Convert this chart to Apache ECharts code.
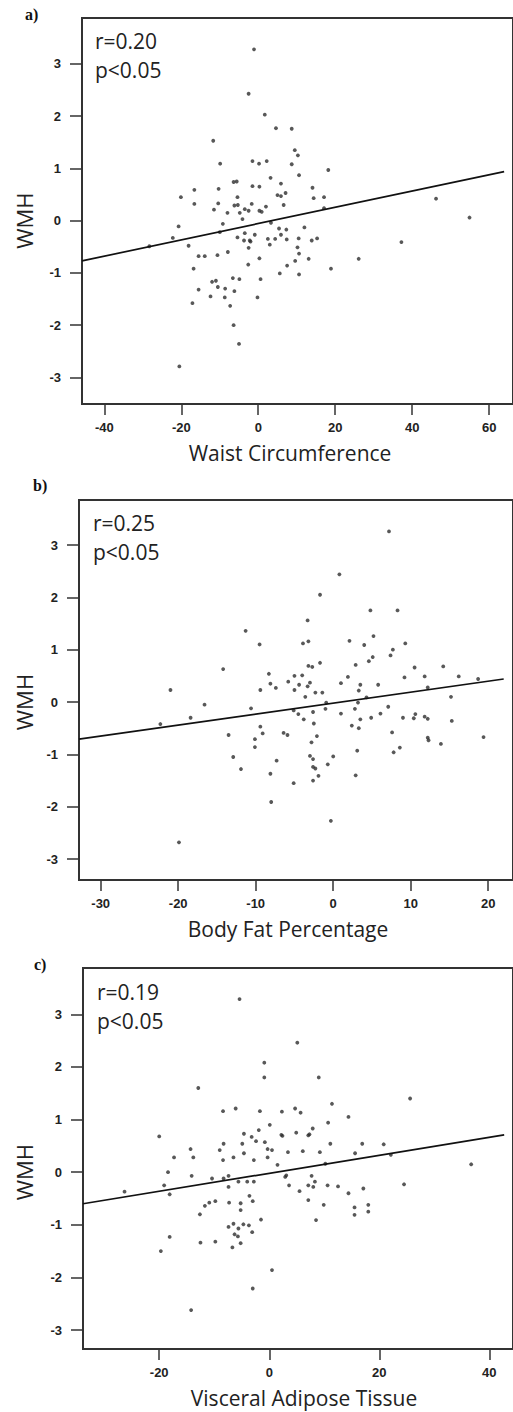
<!DOCTYPE html>
<html>
<head>
<meta charset="utf-8">
<script src="https://cdn.jsdelivr.net/npm/echarts@6/dist/echarts.min.js"></script>
<style>html,body{margin:0;padding:0;background:#fff}#c{width:513px;height:1412px}</style>
</head>
<body>
<div id="c"></div>
<script>
// ---------- data ----------
const xTicksA = [-40, -20, 0, 20, 40, 60];
const xTicksB = [-30, -20, -10, 0, 10, 20];
const xTicksC = [-20, 0, 20, 40];
const yTicks = [-3, -2, -1, 0, 1, 2, 3];

const statsA = ['r=0.20', 'p<0.05'];
const statsB = ['r=0.25', 'p<0.05'];
const statsC = ['r=0.19', 'p<0.05'];

const waistPoints = [
[-1.1,3.28],[-2.5,2.43],[-11.7,1.53],[-9.9,1.09],[-1.5,1.14],[-6.4,0.74],[-5.6,0.75],[-1.5,0.66],[-10.3,0.61],[-16.6,0.59],
[-20.1,0.45],[-5.4,0.45],[1.7,2.03],[4.6,1.77],[8.7,1.76],[9.5,1.35],[10.3,1.25],[0.2,1.09],[2.2,1.14],[8.7,1.08],
[18.2,0.97],[3.2,0.82],[10.6,0.87],[5.9,0.71],[0.3,0.65],[5.0,0.49],[5.9,0.47],[7.1,0.53],[14.1,0.63],[14.4,0.43],
[17.1,0.45],[46.2,0.42],[-16.6,0.32],[-10.4,0.33],[-11.5,0.21],[-8.0,0.15],[-6.2,0.29],[-5.3,0.30],[-4.8,0.15],[-3.5,0.22],
[-2.5,0.19],[-1.7,0.32],[-4.1,0.03],[-20.7,-0.11],[-22.2,-0.33],[-28.3,-0.49],[-18.1,-0.48],[-15.5,-0.68],[-13.9,-0.68],[-10.6,-0.66],
[-7.9,-0.60],[-9.2,-0.06],[-10.0,-0.22],[-5.4,-0.32],[-3.5,-0.24],[-3.7,-0.38],[-2.2,-0.38],[-0.9,-0.27],[-2.5,-0.52],[-2.6,-0.84],
[-16.8,-0.92],[-15.5,-1.32],[-17.1,-1.58],[-12.0,-1.17],[-11.0,-1.15],[-10.5,-1.27],[-8.6,-1.30],[-12.4,-1.45],[-8.7,-1.47],[-6.2,-1.35],
[-6.6,-1.10],[-4.9,-1.12],[-7.3,-1.63],[-6.4,-2.00],[-5.0,-2.36],[-20.5,-2.79],[0.3,0.19],[0.9,0.17],[2.0,0.27],[6.6,0.30],
[17.1,0.24],[54.9,0.06],[37.2,-0.41],[3.3,-0.04],[-2.0,-0.40],[5.4,-0.15],[5.9,-0.27],[7.3,-0.17],[7.4,-0.36],[4.4,-0.35],
[2.5,-0.35],[3.0,-0.46],[12.0,-0.13],[10.5,-0.34],[10.2,-0.51],[10.6,-0.63],[13.9,-0.38],[15.3,-0.34],[0.3,-0.72],[0.6,-1.12],
[-0.2,-1.47],[5.6,-1.01],[7.5,-0.86],[9.6,-0.77],[13.1,-0.73],[10.6,-1.03],[18.9,-0.92],[26.1,-0.73]
];
const bodyFatPoints = [
[-11.3,1.36],[-14.2,0.63],[7.2,3.26],[0.8,2.44],[-1.7,2.05],[4.8,1.75],[8.3,1.75],[-3.3,1.56],[-9.5,1.10],[-3.9,1.12],
[-3.2,1.16],[2.1,1.17],[4.0,1.09],[5.2,1.26],[9.3,1.12],[7.7,1.00],[7.4,0.89],[5.1,0.86],[4.6,0.78],[2.9,0.71],
[-1.7,0.75],[-3.2,0.69],[-2.7,0.67],[10.5,0.66],[14.2,0.68],[-21.0,0.23],[-16.6,-0.05],[-18.4,-0.30],[-22.3,-0.42],[-13.5,-0.63],
[-12.9,-1.05],[-11.9,-1.28],[-19.9,-2.68],[-10.6,-0.12],[-10.1,-0.71],[-10.1,-0.86],[-8.3,0.54],[-9.4,0.23],[-8.1,0.35],[-7.4,0.27],
[-5.8,0.39],[-5.0,0.50],[-4.4,0.33],[-5.0,0.23],[-4.0,0.51],[-3.0,0.37],[-3.3,0.30],[-2.3,0.18],[-1.4,0.18],[-3.6,0.10],
[1.0,0.36],[1.9,0.48],[3.5,0.33],[3.3,0.22],[4.3,0.09],[5.8,0.33],[9.2,0.47],[11.8,0.49],[16.2,0.49],[18.7,0.44],
[12.2,0.28],[15.2,0.10],[-5.1,-0.16],[-4.5,-0.23],[-3.8,-0.33],[-2.6,-0.19],[-2.5,-0.41],[-0.9,-0.01],[-1.0,-0.13],[1.0,-0.22],
[2.8,-0.13],[3.2,-0.01],[3.5,-0.33],[3.3,-0.50],[2.4,-0.45],[4.9,-0.30],[6.1,-0.22],[7.1,-0.09],[9.0,-0.30],[10.4,-0.31],
[10.6,-0.23],[11.8,-0.28],[12.2,-0.32],[15.3,-0.36],[7.6,-0.58],[8.6,-0.87],[7.8,-0.96],[12.2,-0.68],[12.3,-0.73],[13.9,-0.80],
[19.4,-0.67],[-9.4,-0.47],[-9.1,-0.60],[-6.4,-0.59],[-5.9,-0.63],[-7.3,-1.12],[-8.1,-1.37],[-5.1,-1.55],[-8.0,-1.91],[-2.8,-0.77],
[-2.1,-0.65],[-3.0,-1.03],[-2.6,-1.09],[-2.6,-1.24],[-2.3,-1.27],[-1.9,-1.41],[-2.6,-1.50],[0.0,-1.04],[-0.7,-1.19],[3.1,-0.93],
[2.9,-1.40],[-0.3,-2.27]
];
const vatPoints = [
[-5.4,3.29],[-12.9,1.60],[-8.4,1.16],[-6.1,1.21],[-20.0,0.68],[-4.6,0.73],[-3.2,0.67],[-8.3,0.54],[-4.9,0.54],[5.1,2.46],
[-0.9,2.08],[-0.9,1.80],[9.0,1.80],[25.6,1.40],[11.4,1.30],[-1.7,1.16],[2.3,1.15],[4.7,1.21],[5.7,1.13],[14.4,1.05],
[0.1,0.90],[-1.9,0.80],[10.7,0.94],[-2.4,0.59],[-0.8,0.57],[2.2,0.71],[2.4,0.69],[4.9,0.75],[7.3,0.72],[7.9,0.83],
[11.1,0.54],[16.9,0.54],[20.8,0.53],[-14.3,0.44],[-13.8,0.28],[-17.3,0.28],[-18.4,0.00],[-19.1,-0.25],[-18.1,-0.42],[-26.3,-0.37],
[-14.1,-0.07],[-19.7,-1.50],[-18.1,-1.23],[-14.2,-2.62],[-9.0,0.42],[-8.4,0.23],[-6.5,0.28],[-4.6,0.36],[-2.8,0.23],[-10.4,-0.12],
[-8.3,-0.12],[-7.4,-0.07],[-7.4,-0.28],[-5.6,-0.18],[-4.0,-0.18],[-2.8,-0.18],[-3.6,-0.45],[-3.0,-0.55],[-12.6,-0.80],[-11.7,-0.64],
[-10.9,-0.58],[-9.8,-0.55],[-7.3,-0.58],[-5.2,-0.59],[-5.2,-0.72],[-7.4,-1.04],[-6.5,-0.98],[-5.6,-1.07],[-4.7,-0.99],[-3.7,-1.01],
[-6.3,-1.18],[-5.7,-1.22],[-3.1,-1.14],[-12.5,-1.34],[-9.8,-1.32],[-6.7,-1.43],[-5.2,-1.35],[-3.0,-2.21],[7.1,0.70],[-0.3,0.44],
[0.5,0.42],[-0.3,0.28],[3.4,0.38],[6.1,0.40],[9.2,0.38],[22.1,0.33],[15.6,0.36],[1.5,0.14],[10.2,0.16],[36.7,0.15],
[3.1,-0.06],[2.9,-0.09],[3.6,-0.25],[5.5,-0.36],[7.1,-0.25],[7.7,-0.07],[8.0,-0.28],[8.3,-0.18],[7.1,-0.53],[10.6,-0.25],
[12.5,-0.27],[14.4,-0.40],[17.1,-0.31],[9.9,-0.62],[8.5,-0.91],[15.5,-0.67],[15.5,-0.81],[18.0,-0.62],[18.0,-0.75],[24.5,-0.23],
[-1.5,-0.90],[0.5,-1.86]
];
// fit line end points
const fitA = [[-45.8,-0.77],[63.9,0.94]];
const fitB = [[-32.8,-0.71],[22.0,0.44]];
const fitC = [[-33.85,-0.60],[42.7,0.71]];

// ---------- layout ----------
const panels = [
  {grid:{left:82, top:18, width:440, height:386}, x:[-45.8,66.2], y:[-3.51,3.88], xt:xTicksA, pts:waistPoints, fit:fitA,
   name:'Waist Circumference', nameX:290, tag:'a)', tagX:25, tagY:15, stats:statsA, sx:95, sy:43},
  {grid:{left:79, top:500, width:443, height:380}, x:[-32.8,23.2], y:[-3.40,3.86], xt:xTicksB, pts:bodyFatPoints, fit:fitB,
   name:'Body Fat Percentage', nameX:288, tag:'b)', tagX:33, tagY:486, stats:statsB, sx:93, sy:525},
  {grid:{left:83, top:968, width:439, height:381}, x:[-33.85,44.3], y:[-3.36,3.88], xt:xTicksC, pts:vatPoints, fit:fitC,
   name:'Visceral Adipose Tissue', nameX:304, tag:'c)', tagX:34, tagY:965, stats:statsC, sx:97, sy:994}
];

const grids=[], xAxes=[], yAxes=[], series=[], graphics=[];
const axisCol = '#333';
panels.forEach((p,i)=>{
  grids.push(Object.assign({show:true, borderColor:axisCol, borderWidth:2, backgroundColor:'transparent'}, p.grid));
  xAxes.push({gridIndex:i, type:'value', min:p.x[0], max:p.x[1], position:'bottom',
    axisLine:{show:false, onZero:false}, splitLine:{show:false},
    axisTick:{show:true, inside:false, length:11, customValues:p.xt, lineStyle:{color:axisCol, width:1.5}},
    axisLabel:{show:true, customValues:p.xt, margin:17, color:'#222', fontFamily:'Liberation Sans', fontWeight:'bold', fontSize:13}
  });
  yAxes.push({gridIndex:i, type:'value', min:p.y[0], max:p.y[1], position:'left',
    axisLine:{show:false, onZero:false}, splitLine:{show:false},
    axisTick:{show:true, inside:false, length:12, customValues:yTicks, lineStyle:{color:axisCol, width:1.5}},
    axisLabel:{show:true, customValues:yTicks, margin:21, color:'#222', fontFamily:'Liberation Sans', fontWeight:'bold', fontSize:13}
  });
  series.push({type:'scatter', xAxisIndex:i, yAxisIndex:i, data:p.pts, symbol:'circle', symbolSize:3.8,
    itemStyle:{color:'#2e2e2e'}, silent:true});
  series.push({type:'line', xAxisIndex:i, yAxisIndex:i, data:p.fit, symbol:'none', silent:true,
    lineStyle:{color:'#111', width:1.7}});
  const g = p.grid;
  graphics.push({type:'text', left:p.tagX, top:p.tagY-9, style:{text:p.tag, font:'bold 16px "Liberation Serif"', fill:'#111'}});
  graphics.push({type:'text', left:p.sx, top:p.sy-13, style:{text:p.stats[0], font:'21px "Open Sans"', fill:'#222'}});
  graphics.push({type:'text', left:p.sx, top:p.sy+16, style:{text:p.stats[1], font:'21px "Open Sans"', fill:'#222'}});
  // x axis title
  graphics.push({type:'text', x:p.nameX, y:g.top+g.height+49, style:{text:p.name, font:'21px "Open Sans"', fill:'#222', align:'center', verticalAlign:'middle'}});
  // y axis title centred on the 0 tick
  const zeroY = g.top + g.height * (p.y[1] / (p.y[1]-p.y[0]));
  graphics.push({type:'text', x:24, y:zeroY, rotation:Math.PI/2, style:{text:'WMH', font:'22px "Open Sans"', fill:'#222', align:'center', verticalAlign:'middle'}});
});

const chart = echarts.init(document.getElementById('c'), null, {renderer:'svg', width:513, height:1412});
chart.setOption({animation:false, backgroundColor:'#fff', grid:grids, xAxis:xAxes, yAxis:yAxes, series:series, graphic:graphics});
</script>
</body>
</html>
